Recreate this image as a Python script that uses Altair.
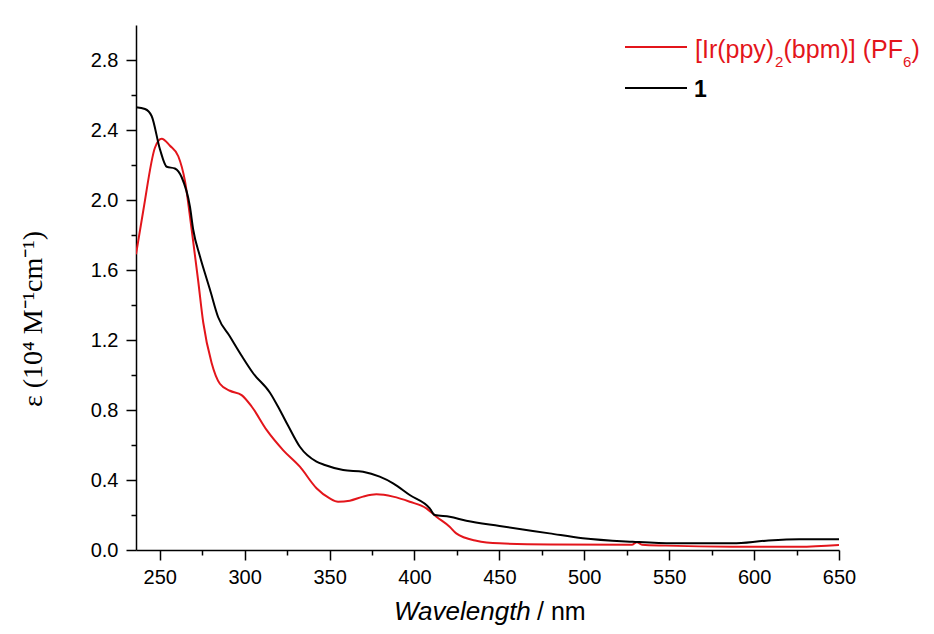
import altair as alt
import pandas as pd

# ---- data ----
red_nm = [236, 240.3, 247.2, 251.1, 256, 260.9, 264.8, 268.8, 272.6, 275.6, 280.5, 285.4, 291.3, 298.2,
          304.1, 312.9, 322.6, 332.5, 342.3, 350.1, 355, 361.9, 369.7, 377.6, 387.4, 397.2, 407, 412.9,
          420.7, 424.6, 436.4, 450, 480, 528, 531, 534, 548, 587, 626.6, 650]
red_eps = [1.69, 1.94, 2.30, 2.35, 2.31, 2.25, 2.11, 1.83, 1.54, 1.30, 1.07, 0.95, 0.91, 0.885,
           0.82, 0.686, 0.571, 0.476, 0.353, 0.295, 0.276, 0.282, 0.305, 0.318, 0.305, 0.276, 0.238, 0.19,
           0.133, 0.095, 0.053, 0.038, 0.032, 0.03, 0.045, 0.03, 0.025, 0.019, 0.019, 0.029]

black_nm = [236, 241.3, 245.2, 250.1, 254.1, 258.9, 262.9, 267.8, 269.7, 273.6, 277.6, 279.5, 284.4,
            291.3, 298.2, 305, 314.8, 320.7, 325.6, 332.5, 342.3, 347.2, 358, 369.7, 379.5, 387.4,
            397.2, 409, 411.9, 420.7, 430.5, 450.1, 479.5, 499.1, 528.5, 552.1, 587.4, 607, 626.6, 650]
black_eps = [2.53, 2.52, 2.48, 2.29, 2.19, 2.18, 2.13, 1.96, 1.83, 1.68, 1.55, 1.49, 1.33,
             1.22, 1.11, 1.01, 0.90, 0.80, 0.71, 0.59, 0.505, 0.486, 0.457, 0.447, 0.419, 0.381,
             0.314, 0.238, 0.20, 0.19, 0.167, 0.137, 0.095, 0.067, 0.047, 0.038, 0.038, 0.053, 0.061, 0.061]

series_names = ["[Ir(ppy)₂(bpm)] (PF₆)", "1"]
series_colors = ["#e3151b", "#000000"]
# legend label of the red series, split so that the subscripts can be lowered
red_label_parts = ["[Ir(ppy)", "2", "(bpm)] (PF", "6", ")"]

x_ticks = list(range(250, 651, 25))
y_ticks = [round(0.2 * i, 1) for i in range(15)]

x_domain = [236, 650]
y_domain = [0, 3.0]

W, H = 703, 525

df = pd.concat([
    pd.DataFrame({"nm": red_nm, "eps": red_eps, "series": series_names[0], "k": 0}),
    pd.DataFrame({"nm": black_nm, "eps": black_eps, "series": series_names[1], "k": 1}),
], ignore_index=True)

major_x = "datum.value % 50 == 0"
major_y = "abs(round(datum.value / 0.4) * 0.4 - datum.value) < 1e-6"

common_axis = dict(
    grid=False, title=None, domainColor="black", domainWidth=1.5, tickColor="black", tickWidth=1.5,
    labelFont="Liberation Sans", labelFontSize=20, labelColor="black", labelFlush=False,
)

lines = alt.Chart(df).mark_line(strokeWidth=2, clip=True, interpolate="monotone").encode(
    x=alt.X("nm:Q", scale=alt.Scale(domain=x_domain, nice=False, zero=False),
            axis=alt.Axis(values=x_ticks, labelExpr=f"{major_x} ? datum.label : ''",
                          tickSize={"condition": {"test": major_x, "value": 10}, "value": 5},
                          labelPadding=7, **common_axis)),
    y=alt.Y("eps:Q", scale=alt.Scale(domain=y_domain, nice=False),
            axis=alt.Axis(values=y_ticks, labelExpr=f"{major_y} ? format(datum.value, '.1f') : ''",
                          tickSize={"condition": {"test": major_y, "value": 10}, "value": 5},
                          labelPadding=8, **common_axis)),
    color=alt.Color("series:N", scale=alt.Scale(domain=series_names, range=series_colors), legend=None),
    detail="k:N",
)

one = pd.DataFrame({"a": [0]})


def txt(s, x, y, size, color="black", align="left", baseline="alphabetic", font="Liberation Sans",
        style="normal", weight="normal", angle=0):
    return alt.Chart(one).mark_text(align=align, baseline=baseline, font=font, fontSize=size,
                                    fontStyle=style, fontWeight=weight, color=color, angle=angle).encode(
        x=alt.value(x), y=alt.value(y), text=alt.value(s))


leg_red_line = alt.Chart(one).mark_rule(color=series_colors[0], strokeWidth=2).encode(
    x=alt.value(489), x2=alt.value(551), y=alt.value(22))
leg_blk_line = alt.Chart(one).mark_rule(color=series_colors[1], strokeWidth=2).encode(
    x=alt.value(489), x2=alt.value(551), y=alt.value(63))

red_c = series_colors[0]
leg_parts = [
    txt(red_label_parts[0], 559, 33, 25, red_c),
    txt(red_label_parts[1], 639, 41.5, 15, red_c),
    txt(red_label_parts[2], 647.5, 33, 25, red_c),
    txt(red_label_parts[3], 767, 41.5, 15, red_c),
    txt(red_label_parts[4], 775.5, 33, 25, red_c),
    txt(series_names[1], 558, 72, 23, "black", weight="bold"),
]

titles = [
    txt("Wavelength", 258, 595, 26, style="italic"),
    txt("/ nm", 401, 595, 25),
    txt("ε (10⁴ M⁻¹cm⁻¹)", -102, 294, 28, font="Liberation Serif", align="center",
        baseline="middle", angle=270),
]

chart = alt.layer(
    lines, leg_red_line, leg_blk_line, *leg_parts, *titles
).properties(
    width=W, height=H,
    autosize=alt.AutoSizeParams(type="none"),
    padding={"left": 128, "top": 17, "right": 87, "bottom": 76},
    background="white",
).configure_view(stroke=None)

chart.save("out.html", embed_options={"renderer": "svg", "actions": False})
